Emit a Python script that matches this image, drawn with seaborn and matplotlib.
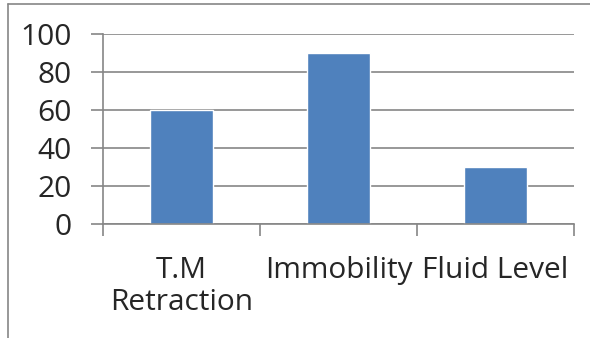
import matplotlib
matplotlib.use('Agg')
import matplotlib.pyplot as plt
import seaborn as sns
from matplotlib.lines import Line2D

# chart data
categories = ['T.M\nRetraction', 'Immobility', 'Fluid Level']
values = [60, 90, 30]
y_ticks = [0, 20, 40, 60, 80, 100]

sns.set_style("white")
plt.rcParams['font.family'] = ['Open Sans', 'DejaVu Sans']

grey = '#868686'
fig = plt.figure(figsize=(5.9, 3.38), dpi=100)
ax = fig.add_axes([103 / 590, 1 - 224 / 338, (574 - 103) / 590, (224 - 34) / 338])

sns.barplot(x=categories, y=values, color='#4F81BD', width=0.4, saturation=1, ax=ax)

ax.set_ylim(0, 100)
ax.set_xlim(-0.5, 2.5)
ax.set_yticks(y_ticks)
ax.yaxis.grid(True, color=grey, linewidth=1.2)
ax.set_axisbelow(True)
for s in ['top', 'right']:
    ax.spines[s].set_visible(False)
for s in ['left', 'bottom']:
    ax.spines[s].set_color(grey)
    ax.spines[s].set_linewidth(1.2)

ax.tick_params(axis='y', which='major', length=8.6, width=1.2, color=grey,
               labelsize=21.5, pad=14, left=True)
ax.set_xticks([-0.5, 0.5, 1.5, 2.5], minor=True)
ax.tick_params(axis='x', which='minor', length=8.6, width=1.2, color=grey, bottom=True)
ax.tick_params(axis='x', which='major', length=0, labelsize=21.5, pad=23)
for lbl in ax.get_xticklabels():
    lbl.set_linespacing(1.15)
ax.set_xlabel('')
ax.set_ylabel('')

# outer chart border
fig.add_artist(Line2D([8 / 590, 1], [1 - 4 / 338, 1 - 4 / 338], color=grey, lw=1.2,
                      transform=fig.transFigure))
fig.add_artist(Line2D([8 / 590, 8 / 590], [0, 1 - 4 / 338], color=grey, lw=1.2,
                      transform=fig.transFigure))

plt.savefig('out.png', dpi=100)
